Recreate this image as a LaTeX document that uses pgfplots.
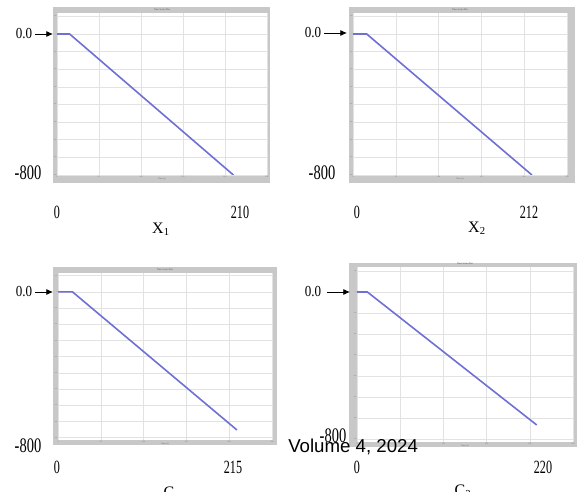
\documentclass[border=0pt]{standalone}
\usepackage{pgfplots}
\pgfplotsset{compat=1.18}
\usepackage{fontspec}
\setmainfont{Liberation Serif}
\newfontfamily\arialf{Liberation Sans}
\usetikzlibrary{arrows.meta}
\definecolor{framec}{RGB}{200,200,200}
\definecolor{curve}{RGB}{112,112,212}
\definecolor{gridc}{RGB}{226,226,226}

\pgfplotsset{panel/.style={
  scale only axis, anchor=south west,
  axis background/.style={fill=white},
  axis line style={draw=none},
  xmin=0, xmax=250, xtick={0,50,100,150,200,250},
  ytick={-900,-800,...,100},
  grid=major, major grid style={draw=gridc, line width=0.4pt},
  major tick length=0pt,
  /pgf/number format/assume math mode=true,
  xticklabel style={font=\fontsize{1.5}{1.8}\selectfont, text=black!55, inner sep=0.5pt},
  yticklabel style={font=\fontsize{1.1}{1.3}\selectfont, text=black!55, inner sep=0.3pt},
  title style={font=\fontsize{1.8}{2.2}\selectfont, text=black!70, inner sep=0.3pt, yshift=-4.6pt},
  xlabel style={font=\fontsize{1.6}{2}\selectfont, text=black!60, inner sep=0pt},
  title={Time Series Plot},
  xlabel={Time (s)},
  clip=true}}

\newcommand{\lab}[3]{\scalebox{#3}[1]{\fontsize{#2}{#2}\selectfont #1}}

\begin{document}
\begin{tikzpicture}[x=0.75pt,y=0.75pt]
\useasboundingbox (0,0) rectangle (583,492);
% frames
\fill[framec] (53,309) rectangle (270,485);
\fill[framec] (349,309) rectangle (575,485);
\fill[framec] (53,47) rectangle (277,225);
\fill[framec] (349,45) rectangle (577,229);

% Panel 1
\begin{axis}[panel, at={(42.75pt,237.75pt)}, width=157.5pt, height=121.5pt, ymin=-800, ymax=119]
\addplot[curve, line width=1.2pt] coordinates {(0,0) (15,0) (210,-800)};
\end{axis}

% Panel 2
\begin{axis}[panel, at={(264.75pt,237.75pt)}, width=160.5pt, height=121.5pt, ymin=-800, ymax=119]
\addplot[curve, line width=1.2pt] coordinates {(0,0) (16,0) (209,-800)};
\end{axis}

% Panel 3
\begin{axis}[panel, at={(43.5pt,39pt)}, width=160.5pt, height=125.25pt, ymin=-914, ymax=117]
\addplot[curve, line width=1.2pt] coordinates {(0,0) (17,0) (209,-852)};
\end{axis}

% Panel 4
\begin{axis}[panel, at={(267.75pt,37.5pt)}, width=162pt, height=131.25pt, ymin=-714, ymax=119]
\addplot[curve, line width=1.2pt] coordinates {(0,0) (12,0) (208,-633)};
\end{axis}

% external labels, panel 1
\node at (24,458) {\lab{0.0}{11.5}{0.85}};
\draw[line width=0.6pt, -{Latex[length=5pt,width=4.5pt]}] (35,458) -- (53,458);
\node at (28,319) {\lab{-800}{15.5}{0.7}};
\node at (57,280) {\lab{0}{14}{0.65}};
\node at (240,280) {\lab{210}{14}{0.65}};
\node at (161,263) {\fontsize{12}{12}\selectfont X\textsubscript{1}};

% panel 2
\node at (313,459) {\lab{0.0}{11.5}{0.85}};
\draw[line width=0.6pt, -{Latex[length=5pt,width=4.5pt]}] (324,459) -- (347,459);
\node at (322,319) {\lab{-800}{15.5}{0.7}};
\node at (357,280) {\lab{0}{14}{0.65}};
\node at (529,280) {\lab{212}{14}{0.65}};
\node at (477,264) {\fontsize{12}{12}\selectfont X\textsubscript{2}};

% panel 3
\node at (24,200) {\lab{0.0}{11.5}{0.85}};
\draw[line width=0.6pt, -{Latex[length=5pt,width=4.5pt]}] (35,200) -- (53,200);
\node at (28,46) {\lab{-800}{15.5}{0.7}};
\node at (57,25) {\lab{0}{14}{0.65}};
\node at (233,25) {\lab{215}{14}{0.65}};
\node[anchor=north] at (172,10) {\fontsize{12}{12}\selectfont C\textsubscript{1}};

% panel 4
\node at (313,200) {\lab{0.0}{11.5}{0.85}};
\draw[line width=0.6pt, -{Latex[length=5pt,width=4.5pt]}] (327,200) -- (350,200);
\node at (333,56) {\lab{-800}{15.5}{0.7}};
\node at (357,25) {\lab{0}{14}{0.65}};
\node at (543,25) {\lab{220}{14}{0.65}};
\node[anchor=north] at (463,12) {\fontsize{12}{12}\selectfont C\textsubscript{3}};

\node[anchor=west, inner sep=0pt] at (288,45) {\arialf\fontsize{14}{14}\selectfont Volume 4, 2024};
\end{tikzpicture}
\end{document}
